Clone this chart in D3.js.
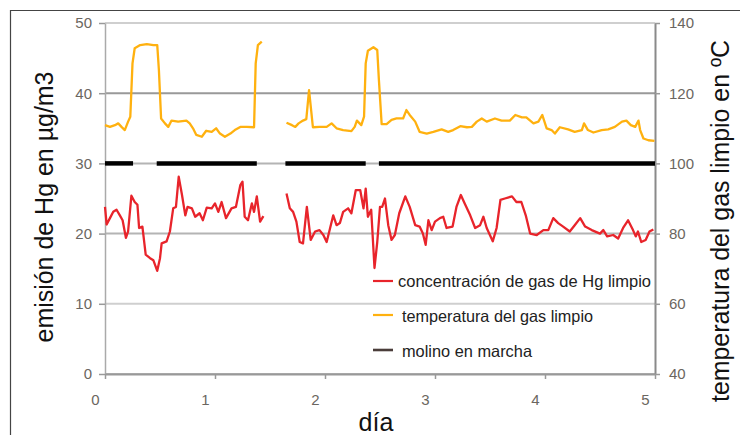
<!DOCTYPE html>
<html>
<head>
<meta charset="utf-8">
<script src="https://cdn.jsdelivr.net/npm/d3@7"></script>
<style>
  body { margin: 0; background: #fff; }
  svg { font-family: "Liberation Sans", Arial, sans-serif; }
</style>
</head>
<body>
<svg id="app" width="740" height="435"></svg>
<script>
// day, °C (right axis)
const tempPart1 = [
  [0.00,110.9],[0.045,110.4],[0.09,110.9],[0.12,111.4],[0.15,110.4],[0.18,109.5],[0.21,111.9],[0.23,113.3],
  [0.25,128.5],[0.27,132.8],[0.32,133.7],[0.38,134],[0.44,133.7],[0.475,133.7],[0.49,126.6],[0.51,112.8],
  [0.545,111.4],[0.575,110.4],[0.605,112.2],[0.665,111.9],[0.74,112.2],[0.77,111.4],[0.80,110],[0.83,108.1],
  [0.88,107.6],[0.92,109.3],[0.97,109],[1.01,110],[1.045,108.5],[1.09,107.6],[1.14,108.5],[1.18,109.5],
  [1.23,110.4],[1.29,110.4],[1.355,110.3],[1.37,128.5],[1.39,133.7],[1.425,134.7]
]
const tempPart2 = [
  [1.65,111.6],[1.70,110.9],[1.73,110.4],[1.76,111.4],[1.80,112.2],[1.83,112.6],[1.855,120.9],[1.88,113.3],
  [1.89,110.3],[1.95,110.4],[2.015,110.4],[2.06,111.4],[2.105,110],[2.165,109.5],[2.24,109.2],[2.27,110.4],
  [2.29,112.2],[2.33,110.9],[2.355,113.3],[2.37,128.5],[2.39,132.1],[2.44,133.1],[2.475,132.3],[2.49,123.8],
  [2.515,111.2],[2.56,111.2],[2.605,112.4],[2.65,112.8],[2.71,112.8],[2.74,115.2],[2.77,113.8],[2.82,111.9],
  [2.86,109],[2.925,108.5],[2.985,109],[3.06,109.7],[3.12,109],[3.165,109.5],[3.23,110.6],[3.29,110.3],
  [3.335,110.4],[3.38,111.9],[3.425,112.8],[3.47,111.9],[3.545,112.8],[3.605,112.2],[3.68,112.2],[3.73,113.8],
  [3.79,113.1],[3.83,113.1],[3.895,111.4],[3.94,111.9],[3.975,113.8],[4.015,110],[4.06,109.5],[4.09,108.5],
  [4.135,110.3],[4.21,109.7],[4.27,109],[4.335,109.5],[4.355,111.4],[4.39,109.5],[4.44,108.8],[4.515,109.5],
  [4.575,109.7],[4.635,110.4],[4.70,111.9],[4.74,112.2],[4.78,110.9],[4.82,110.4],[4.85,112.2],[4.865,109.5],
  [4.895,107.1],[4.94,106.6],[4.995,106.4]
]

// day, µg/m3 (left axis)
const concPart1 = [
  [0.00,23.8],[0.015,21.3],[0.045,22.2],[0.075,23.1],[0.105,23.4],[0.135,22.6],[0.16,21.9],[0.19,19.4],
  [0.21,20.3],[0.24,25.4],[0.27,24.5],[0.295,24.1],[0.31,20.8],[0.34,21],[0.37,17],[0.41,16.5],
  [0.44,16.2],[0.475,14.7],[0.50,16.5],[0.515,18.6],[0.56,18.9],[0.59,20.3],[0.62,23.6],[0.645,23.8],
  [0.67,28.1],[0.70,25.5],[0.73,22.6],[0.75,23.8],[0.79,23.6],[0.82,22.4],[0.86,22.9],[0.89,21.9],
  [0.925,23.7],[0.97,23.6],[1.00,24.3],[1.03,23.1],[1.06,24.5],[1.10,22.2],[1.15,23.6],[1.19,23.8],
  [1.23,26.9],[1.25,27.4],[1.27,22.4],[1.30,21.9],[1.335,24.3],[1.355,23.1],[1.38,25.3],[1.41,21.7],[1.44,22.5]
]
const concPart2 = [
  [1.65,25.7],[1.68,23.6],[1.71,23.1],[1.74,21.7],[1.77,18.8],[1.80,18.6],[1.835,23.8],[1.87,19.1],
  [1.91,20.3],[1.95,20.5],[1.985,19.8],[2.015,18.8],[2.045,20.7],[2.075,22.6],[2.105,21.2],[2.135,21.5],
  [2.165,23.1],[2.21,23.6],[2.24,22.9],[2.28,26.2],[2.32,26.2],[2.35,23.6],[2.37,26.4],[2.39,22.4],
  [2.42,23.4],[2.45,15.1],[2.475,18.8],[2.50,23.8],[2.52,23.8],[2.545,25],[2.575,21.2],[2.605,19.1],
  [2.635,19.8],[2.675,22.9],[2.73,25.3],[2.77,23.8],[2.82,21.2],[2.86,21],[2.89,20],[2.915,18.4],
  [2.94,21.9],[2.97,20.5],[3.00,21.7],[3.045,22.2],[3.075,22.4],[3.105,20.8],[3.16,21],[3.195,23.8],
  [3.235,25.5],[3.27,24.3],[3.32,22.6],[3.365,20.8],[3.41,21.2],[3.44,22.4],[3.47,20.8],[3.525,18.9],
  [3.56,20.8],[3.595,24.8],[3.635,25],[3.70,25.3],[3.74,24.5],[3.785,24.5],[3.825,22.6],[3.865,20],
  [3.925,19.8],[3.985,20.5],[4.03,20.5],[4.075,22.2],[4.12,21.5],[4.165,21],[4.225,20.3],[4.27,21.2],
  [4.32,22.2],[4.365,21],[4.425,20.5],[4.50,20],[4.53,20.5],[4.565,19.6],[4.62,19.8],[4.665,19.3],
  [4.71,20.8],[4.755,21.9],[4.80,20.5],[4.825,19.6],[4.845,20.3],[4.875,18.8],[4.915,19.1],[4.95,20.3],[4.985,20.6]
]

// periods when the mill runs (day from, day to), drawn at 30 µg/m3
const millRuns = [[0, 0.255], [0.47, 1.38], [1.64, 2.37], [2.49, 5]]
const millLevel = 30

const dayTicks = [0, 1, 2, 3, 4, 5]
const concTicks = [0, 10, 20, 30, 40, 50]
const tempTicks = [40, 60, 80, 100, 120, 140]

const legendLabels = ['concentración de gas de Hg limpio', 'temperatura del gas limpio', 'molino en marcha']

const red = '#e8242b'
const orange = '#ffb10f'
const millColor = '#000000'

let svg = d3.select('#app')

const plotL = 105, plotR = 655, plotT = 23, plotB = 374

let x = d3.scaleLinear().domain([0, 5]).range([plotL, plotR])
let y = d3.scaleLinear().domain([0, 50]).range([plotB, plotT])
let yR = d3.scaleLinear().domain([40, 140]).range([plotB, plotT])

// outer frame
svg.append('path')
.attr('d', 'M10.5,435 V10.5 H740')
.attr('fill', 'none')
.attr('stroke', '#444')
.attr('stroke-width', 1.2)

// grid
svg.append('g')
.selectAll('line')
.data(concTicks)
.enter()
.append('line')
.attr('x1', plotL)
.attr('x2', plotR)
.attr('y1', d => y(d))
.attr('y2', d => y(d))
.attr('stroke', d => d === 40 ? '#999' : d === 10 || d === 50 ? '#cfcfcf' : '#b4b4b4')
.attr('stroke-width', 2)

// axes
let axL = svg.append('g')
.attr('transform', `translate(${plotL},0)`)
.call(d3.axisLeft(y).tickValues(concTicks).tickSize(6).tickPadding(7).tickSizeOuter(0))

let axR = svg.append('g')
.attr('transform', `translate(${plotR},0)`)
.call(d3.axisRight(yR).tickValues(tempTicks).tickSize(5).tickPadding(9).tickSizeOuter(0))

let axB = svg.append('g')
.attr('transform', `translate(0,${plotB})`)
.call(d3.axisBottom(x).tickValues(dayTicks).tickFormat(d3.format('d')).tickSize(5).tickPadding(15).tickSizeOuter(0))

axL.select('.domain').attr('stroke', '#aaa').attr('stroke-width', 1.5)
axR.select('.domain').attr('stroke', '#8a8a8a').attr('stroke-width', 2)
axB.select('.domain').attr('stroke', '#999').attr('stroke-width', 2)
svg.selectAll('.tick line').attr('stroke', '#999').attr('stroke-width', 1.5)
svg.selectAll('.tick text')
.attr('font-size', 15)
.attr('fill', '#6b6660')
.attr('font-family', '"Liberation Sans", Arial, sans-serif')
axB.selectAll('.tick text').attr('dx', -10)

// mill running
svg.append('g')
.selectAll('line')
.data(millRuns)
.enter()
.append('line')
.attr('x1', d => x(d[0]))
.attr('x2', d => x(d[1]))
.attr('y1', y(millLevel))
.attr('y2', y(millLevel))
.attr('stroke', millColor)
.attr('stroke-width', 4.5)

let lineT = d3.line().x(d => x(d[0])).y(d => yR(d[1]))
let lineC = d3.line().x(d => x(d[0])).y(d => y(d[1]))

svg.append('g')
.selectAll('path')
.data([tempPart1, tempPart2])
.enter()
.append('path')
.attr('d', lineT)
.attr('fill', 'none')
.attr('stroke', orange)
.attr('stroke-width', 2.3)
.attr('stroke-linejoin', 'round')

svg.append('g')
.selectAll('path')
.data([concPart1, concPart2])
.enter()
.append('path')
.attr('d', lineC)
.attr('fill', 'none')
.attr('stroke', red)
.attr('stroke-width', 2.3)
.attr('stroke-linejoin', 'round')

// legend
const legendRows = [
  {label: legendLabels[0], color: red, ly: 281, ty: 286.5, tx: 398, len: 253, w: 2.2},
  {label: legendLabels[1], color: orange, ly: 315, ty: 322, tx: 402, len: 191, w: 2.2},
  {label: legendLabels[2], color: '#4a3d3a', ly: 350, ty: 357, tx: 402, len: 130, w: 2.6},
]
let lg = svg.append('g')
lg.selectAll('line')
.data(legendRows)
.enter()
.append('line')
.attr('x1', 373)
.attr('x2', 393)
.attr('y1', d => d.ly)
.attr('y2', d => d.ly)
.attr('stroke', d => d.color)
.attr('stroke-width', d => d.w)

lg.selectAll('text')
.data(legendRows)
.enter()
.append('text')
.attr('x', d => d.tx)
.attr('y', d => d.ty)
.attr('font-size', 16.5)
.attr('fill', '#222')
.attr('textLength', d => d.len)
.attr('lengthAdjust', 'spacingAndGlyphs')
.text(d => d.label)

// titles
svg.append('text')
.attr('transform', 'translate(53,207) rotate(-90)')
.attr('text-anchor', 'middle')
.attr('font-size', 25)
.attr('fill', '#111')
.attr('textLength', 271)
.attr('lengthAdjust', 'spacingAndGlyphs')
.text('emisión de Hg en µg/m3')

svg.append('text')
.attr('transform', 'translate(729,221) rotate(-90)')
.attr('text-anchor', 'middle')
.attr('font-size', 25)
.attr('fill', '#111')
.attr('textLength', 362)
.attr('lengthAdjust', 'spacingAndGlyphs')
.text('temperatura del gas limpio en ºC')

svg.append('text')
.attr('x', 376)
.attr('y', 431)
.attr('text-anchor', 'middle')
.attr('font-size', 25)
.attr('fill', '#111')
.text('día')
</script>
</body>
</html>
